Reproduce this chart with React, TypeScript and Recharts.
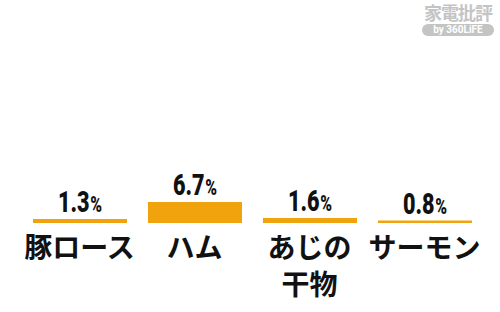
import React from 'react'
import { BarChart, Bar, XAxis, YAxis, LabelList } from 'recharts'

const categories = ['豚ロース', 'ハム', 'あじの\n干物', 'サーモン']
const shares = [1.3, 6.7, 1.6, 0.8]

const data = categories.map((name, i) => ({ name, value: shares[i] }))

const BAR = '#f0a30c'
const JP = '"Noto Sans CJK JP", "Noto Sans", sans-serif'

function CatTick({ x, y, payload }: any) {
  const lines = String(payload.value).split('\n')
  return (
    <g>
      {lines.map((l, i) => (
        <text
          key={i}
          x={x}
          y={y + 35 + i * 37}
          textAnchor="middle"
          fontFamily={JP}
          fontWeight={700}
          fontSize={28}
          fill="#111"
        >
          {l}
        </text>
      ))}
    </g>
  )
}

// 数字は縦長の太字、% は小さめ
function ValueLabel({ x, y, width, value }: any) {
  const cx = x + width / 2
  const by = y - 7
  return (
    <text
      transform={`translate(${cx},${by}) scale(0.72,1)`}
      textAnchor="middle"
      fontFamily="Roboto, sans-serif"
      fontWeight={900}
      fill="#111"
    >
      <tspan fontSize={30}>{Number(value).toFixed(1)}</tspan>
      <tspan fontSize={22} dx={1}>%</tspan>
    </text>
  )
}

export default function App() {
  return (
    <div
      style={{
        position: 'absolute',
        left: 0,
        top: 0,
        width: 500,
        height: 312,
        background: '#fff',
        overflow: 'hidden',
      }}
    >
      <BarChart
        width={500}
        height={312}
        data={data}
        margin={{ top: 20, right: 18, bottom: 0, left: 22 }}
      >
        <XAxis
          dataKey="name"
          axisLine={false}
          tickLine={false}
          tickSize={0}
          tickMargin={0}
          height={89}
          interval={0}
          tick={<CatTick />}
        />
        <YAxis hide domain={[0, 65]} />
        <Bar dataKey="value" fill={BAR} barSize={94} isAnimationActive={false}>
          <LabelList dataKey="value" content={<ValueLabel />} />
        </Bar>
      </BarChart>

      {/* ロゴ */}
      <div
        style={{
          position: 'absolute',
          right: 6,
          top: 2,
          width: 72,
          textAlign: 'center',
          color: '#c4c4c4',
          fontFamily: JP,
        }}
      >
        <div style={{ fontSize: 18, fontWeight: 700, lineHeight: '21px', letterSpacing: -1 }}>
          家電批評
        </div>
        <div
          style={{
            marginTop: 1,
            background: '#c4c4c4',
            color: '#fff',
            borderRadius: 6,
            fontFamily: 'Roboto, sans-serif',
            fontWeight: 700,
            fontSize: 10,
            lineHeight: '12px',
          }}
        >
          by 360LiFE
        </div>
      </div>
    </div>
  )
}
